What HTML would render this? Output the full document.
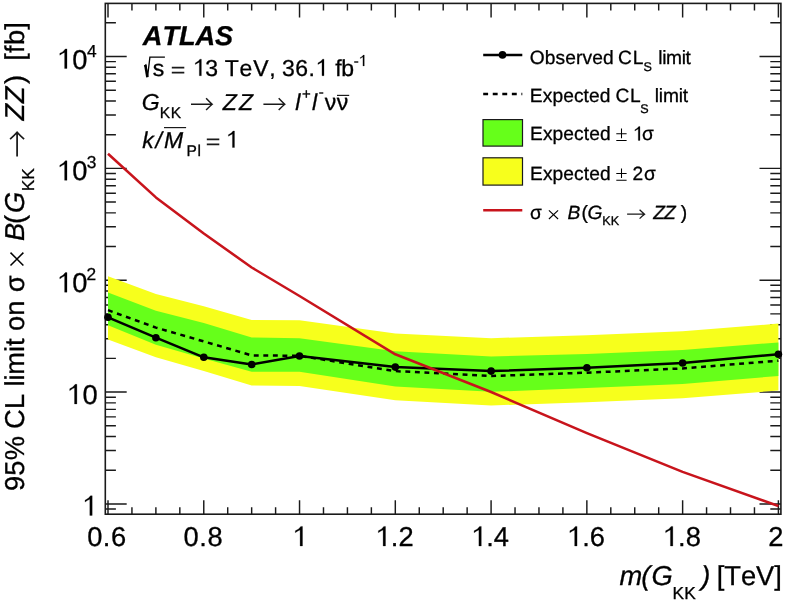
<!DOCTYPE html>
<html><head><meta charset="utf-8"><title>ATLAS limit plot</title>
<style>
html,body{margin:0;padding:0;background:#ffffff;}
svg{will-change:transform;}
svg text{stroke:#000;stroke-width:0.3px;fill:#000;}
body{width:786px;height:604px;position:relative;overflow:hidden;font-family:"Liberation Sans",sans-serif;}
</style></head><body>
<svg width="786" height="604" viewBox="0 0 786 604" style="position:absolute;left:0;top:0;font-kerning:none;text-rendering:geometricPrecision" font-family="Liberation Sans, sans-serif" fill="#1a1a1a">
<rect x="0" y="0" width="786" height="604" fill="#ffffff"/>
<path d="M108.00 514.2 v-14 M108.00 3.4 v14 M131.94 514.2 v-7 M131.94 3.4 v7 M155.89 514.2 v-7 M155.89 3.4 v7 M179.83 514.2 v-7 M179.83 3.4 v7 M203.77 514.2 v-14 M203.77 3.4 v14 M227.71 514.2 v-7 M227.71 3.4 v7 M251.66 514.2 v-7 M251.66 3.4 v7 M275.60 514.2 v-7 M275.60 3.4 v7 M299.54 514.2 v-14 M299.54 3.4 v14 M323.49 514.2 v-7 M323.49 3.4 v7 M347.43 514.2 v-7 M347.43 3.4 v7 M371.37 514.2 v-7 M371.37 3.4 v7 M395.31 514.2 v-14 M395.31 3.4 v14 M419.26 514.2 v-7 M419.26 3.4 v7 M443.20 514.2 v-7 M443.20 3.4 v7 M467.14 514.2 v-7 M467.14 3.4 v7 M491.09 514.2 v-14 M491.09 3.4 v14 M515.03 514.2 v-7 M515.03 3.4 v7 M538.97 514.2 v-7 M538.97 3.4 v7 M562.91 514.2 v-7 M562.91 3.4 v7 M586.86 514.2 v-14 M586.86 3.4 v14 M610.80 514.2 v-7 M610.80 3.4 v7 M634.74 514.2 v-7 M634.74 3.4 v7 M658.69 514.2 v-7 M658.69 3.4 v7 M682.63 514.2 v-14 M682.63 3.4 v14 M706.57 514.2 v-7 M706.57 3.4 v7 M730.51 514.2 v-7 M730.51 3.4 v7 M754.46 514.2 v-7 M754.46 3.4 v7 M778.40 514.2 v-14 M778.40 3.4 v14 M105.3 509.02 h10.6 M780.9 509.02 h-10.6 M105.3 503.90 h21.4 M780.9 503.90 h-21.4 M105.3 470.23 h10.6 M780.9 470.23 h-10.6 M105.3 450.53 h10.6 M780.9 450.53 h-10.6 M105.3 436.56 h10.6 M780.9 436.56 h-10.6 M105.3 425.72 h10.6 M780.9 425.72 h-10.6 M105.3 416.86 h10.6 M780.9 416.86 h-10.6 M105.3 409.38 h10.6 M780.9 409.38 h-10.6 M105.3 402.89 h10.6 M780.9 402.89 h-10.6 M105.3 397.17 h10.6 M780.9 397.17 h-10.6 M105.3 392.05 h21.4 M780.9 392.05 h-21.4 M105.3 358.38 h10.6 M780.9 358.38 h-10.6 M105.3 338.68 h10.6 M780.9 338.68 h-10.6 M105.3 324.71 h10.6 M780.9 324.71 h-10.6 M105.3 313.87 h10.6 M780.9 313.87 h-10.6 M105.3 305.01 h10.6 M780.9 305.01 h-10.6 M105.3 297.53 h10.6 M780.9 297.53 h-10.6 M105.3 291.04 h10.6 M780.9 291.04 h-10.6 M105.3 285.32 h10.6 M780.9 285.32 h-10.6 M105.3 280.20 h21.4 M780.9 280.20 h-21.4 M105.3 246.53 h10.6 M780.9 246.53 h-10.6 M105.3 226.83 h10.6 M780.9 226.83 h-10.6 M105.3 212.86 h10.6 M780.9 212.86 h-10.6 M105.3 202.02 h10.6 M780.9 202.02 h-10.6 M105.3 193.16 h10.6 M780.9 193.16 h-10.6 M105.3 185.68 h10.6 M780.9 185.68 h-10.6 M105.3 179.19 h10.6 M780.9 179.19 h-10.6 M105.3 173.47 h10.6 M780.9 173.47 h-10.6 M105.3 168.35 h21.4 M780.9 168.35 h-21.4 M105.3 134.68 h10.6 M780.9 134.68 h-10.6 M105.3 114.98 h10.6 M780.9 114.98 h-10.6 M105.3 101.01 h10.6 M780.9 101.01 h-10.6 M105.3 90.17 h10.6 M780.9 90.17 h-10.6 M105.3 81.31 h10.6 M780.9 81.31 h-10.6 M105.3 73.83 h10.6 M780.9 73.83 h-10.6 M105.3 67.34 h10.6 M780.9 67.34 h-10.6 M105.3 61.62 h10.6 M780.9 61.62 h-10.6 M105.3 56.50 h21.4 M780.9 56.50 h-21.4 M105.3 22.83 h10.6 M780.9 22.83 h-10.6" stroke="#1a1a1a" stroke-width="1.45" fill="none"/>
<polygon points="108.0,276.3 155.9,294.0 203.8,306.3 251.7,320.0 299.5,320.2 395.3,333.4 491.1,338.2 586.9,335.2 682.6,331.2 778.4,323.6 778.4,390.5 682.6,398.2 586.9,402.2 491.1,405.5 395.3,400.2 299.5,386.1 251.7,385.4 203.8,370.9 155.9,357.3 108.0,339.5" fill="#f7ff1c"/>
<polygon points="108.0,292.5 155.9,310.8 203.8,323.1 251.7,337.4 299.5,338.2 395.3,351.3 491.1,356.6 586.9,353.9 682.6,350.0 778.4,342.4 778.4,376.0 682.6,384.0 586.9,388.0 491.1,391.8 395.3,386.4 299.5,371.8 251.7,371.8 203.8,358.6 155.9,344.8 108.0,325.3" fill="#66ff1a"/>
<rect x="105.3" y="3.4" width="675.6" height="510.8" fill="none" stroke="#1a1a1a" stroke-width="1.6"/>
<polyline points="108.0,310.2 155.9,327.6 203.8,341.4 251.7,355.4 299.5,355.8 395.3,371.1 491.1,376.0 586.9,372.7 682.6,368.4 778.4,360.7" fill="none" stroke="#000" stroke-width="2.5" stroke-dasharray="4.9 4.65"/>
<polyline points="108.0,317.3 155.9,337.7 203.8,357.3 251.7,364.5 299.5,356.0 395.3,367.1 491.1,371.1 586.9,367.7 682.6,363.0 778.4,354.2" fill="none" stroke="#000" stroke-width="2.5" stroke-linejoin="round"/>
<circle cx="108.0" cy="317.3" r="3.8" fill="#000"/>
<circle cx="155.9" cy="337.7" r="3.8" fill="#000"/>
<circle cx="203.8" cy="357.3" r="3.8" fill="#000"/>
<circle cx="251.7" cy="364.5" r="3.8" fill="#000"/>
<circle cx="299.5" cy="356.0" r="3.8" fill="#000"/>
<circle cx="395.3" cy="367.1" r="3.8" fill="#000"/>
<circle cx="491.1" cy="371.1" r="3.8" fill="#000"/>
<circle cx="586.9" cy="367.7" r="3.8" fill="#000"/>
<circle cx="682.6" cy="363.0" r="3.8" fill="#000"/>
<circle cx="778.4" cy="354.2" r="3.8" fill="#000"/>
<polyline points="108.0,153.8 155.9,197.4 203.8,233.5 251.7,267.5 299.5,296.0 395.3,354.3 491.1,392.0 586.9,433.2 682.6,471.9 778.4,506.0" fill="none" stroke="#c8141c" stroke-width="2.55" stroke-linejoin="round"/>
<text x="87.13" y="546.00" font-size="27.3" letter-spacing="0.558">0.6</text>
<text x="183.53" y="546.00" font-size="27.3" letter-spacing="0.551">0.8</text>
<path d="M302.50 546.00 L300.10 546.00 L300.10 529.89 Q298.20 530.71 295.30 532.68 L295.30 530.82 Q299.02 529.35 300.79 526.38 L302.50 526.38 Z" fill="#000" stroke="#000" stroke-width="0.25"/>
<path d="M385.51 546.00 L383.11 546.00 L383.11 529.89 Q381.21 530.71 378.32 532.68 L378.32 530.82 Q382.03 529.35 383.80 526.38 L385.51 526.38 Z" fill="#000" stroke="#000" stroke-width="0.25"/>
<text x="390.72" y="546.00" font-size="27.3" letter-spacing="0.197">.2</text>
<path d="M481.29 546.00 L478.89 546.00 L478.89 529.89 Q476.98 530.71 474.09 532.68 L474.09 530.82 Q477.80 529.35 479.58 526.38 L481.29 526.38 Z" fill="#000" stroke="#000" stroke-width="0.25"/>
<text x="486.21" y="546.00" font-size="27.3" letter-spacing="-0.089">.4</text>
<path d="M577.06 546.00 L574.66 546.00 L574.66 529.89 Q572.75 530.71 569.86 532.68 L569.86 530.82 Q573.57 529.35 575.35 526.38 L577.06 526.38 Z" fill="#000" stroke="#000" stroke-width="0.25"/>
<text x="582.18" y="546.00" font-size="27.3" letter-spacing="0.111">.6</text>
<path d="M672.83 546.00 L670.43 546.00 L670.43 529.89 Q668.53 530.71 665.63 532.68 L665.63 530.82 Q669.34 529.35 671.12 526.38 L672.83 526.38 Z" fill="#000" stroke="#000" stroke-width="0.25"/>
<text x="677.94" y="546.00" font-size="27.3" letter-spacing="0.104">.8</text>
<text x="768.23" y="546.00" font-size="27.3">2</text>
<path d="M92.20 515.40 L89.80 515.40 L89.80 499.29 Q87.90 500.11 85.00 502.08 L85.00 500.22 Q88.72 498.75 90.49 495.78 L92.20 495.78 Z" fill="#000" stroke="#000" stroke-width="0.25"/>
<path d="M76.90 403.95 L74.50 403.95 L74.50 387.84 Q72.60 388.66 69.70 390.63 L69.70 388.77 Q73.42 387.30 75.19 384.33 L76.90 384.33 Z" fill="#000" stroke="#000" stroke-width="0.25"/>
<text x="82.58" y="403.95" font-size="27.3" letter-spacing="0.673">0</text>
<path d="M67.00 292.20 L64.60 292.20 L64.60 276.09 Q62.70 276.91 59.80 278.88 L59.80 277.02 Q63.52 275.55 65.29 272.58 L67.00 272.58 Z" fill="#000" stroke="#000" stroke-width="0.25"/>
<text x="72.28" y="292.20" font-size="27.3" letter-spacing="0.273">0</text>
<text x="86.43" y="280.20" font-size="17.3">2</text>
<path d="M67.00 180.35 L64.60 180.35 L64.60 164.24 Q62.70 165.06 59.80 167.03 L59.80 165.17 Q63.52 163.70 65.29 160.73 L67.00 160.73 Z" fill="#000" stroke="#000" stroke-width="0.25"/>
<text x="72.28" y="180.35" font-size="27.3" letter-spacing="0.273">0</text>
<text x="86.64" y="168.35" font-size="17.3">3</text>
<path d="M67.00 68.50 L64.60 68.50 L64.60 52.39 Q62.70 53.21 59.80 55.18 L59.80 53.32 Q63.52 51.85 65.29 48.88 L67.00 48.88 Z" fill="#000" stroke="#000" stroke-width="0.25"/>
<text x="72.28" y="68.50" font-size="27.3" letter-spacing="0.273">0</text>
<text x="86.90" y="56.50" font-size="17.3">4</text>
<text x="142.86" y="45.20" font-size="27.15" font-weight="bold" font-style="italic" letter-spacing="-0.067">ATLAS</text>
<path d="M144.2 66.2 L145.8 65.0 L147.6 76.6 L149.9 57.1 L164.9 57.1" fill="none" stroke="#000" stroke-width="1.3" stroke-linejoin="miter"/>
<path d="M145.3 65.0 L147.4 77.2" fill="none" stroke="#000" stroke-width="2.5"/>
<text x="152.76" y="75.70" font-size="23">s</text>
<path d="M171.8 67.6 H184.3 M171.8 72.7 H184.3" fill="none" stroke="#1a1a1a" stroke-width="1.8"/>
<path d="M201.37 75.70 L199.34 75.70 L199.34 62.13 Q197.74 62.82 195.30 64.48 L195.30 62.91 Q198.43 61.67 199.93 59.17 L201.37 59.17 Z" fill="#000" stroke="#000" stroke-width="0.25"/>
<text x="205.32" y="75.70" font-size="23" letter-spacing="-0.268">3</text>
<text x="224.68" y="75.70" font-size="23" letter-spacing="0.837">TeV,</text>
<text x="281.92" y="75.70" font-size="23" letter-spacing="0.511">36.</text>
<path d="M324.00 75.70 L321.98 75.70 L321.98 62.13 Q320.38 62.82 317.94 64.48 L317.94 62.91 Q321.07 61.67 322.56 59.17 L324.00 59.17 Z" fill="#000" stroke="#000" stroke-width="0.25"/>
<text x="335.17" y="75.70" font-size="23" letter-spacing="-0.290">fb</text>
<text x="353.73" y="65.90" font-size="15">-</text>
<path d="M364.26 65.90 L362.94 65.90 L362.94 57.05 Q361.89 57.50 360.30 58.58 L360.30 57.56 Q362.34 56.75 363.32 55.12 L364.26 55.12 Z" fill="#000" stroke="#000" stroke-width="0.25"/>
<text x="141.77" y="109.80" font-size="23" font-style="italic">G</text>
<text x="159.83" y="117.60" font-size="15.5" letter-spacing="0.669">KK</text>
<path d="M191.0 104.2 H211.6 M206.1 98.3 Q209.8 102.3 212.2 104.2 Q209.8 106.1 206.1 110.1" fill="none" stroke="#1a1a1a" stroke-width="1.45" stroke-linecap="butt" stroke-linejoin="miter"/>
<text x="222.75" y="109.80" font-size="23" font-style="italic" letter-spacing="2.312">ZZ</text>
<path d="M263.4 104.2 H284.2 M278.7 98.3 Q282.4 102.3 284.8 104.2 Q282.4 106.1 278.7 110.1" fill="none" stroke="#1a1a1a" stroke-width="1.45" stroke-linecap="butt" stroke-linejoin="miter"/>
<text x="295.13" y="109.80" font-size="23" font-style="italic">l</text>
<text x="301.97" y="98.60" font-size="15">+</text>
<text x="311.93" y="109.80" font-size="23" font-style="italic">l</text>
<text x="318.83" y="96.50" font-size="15">-</text>
<text x="324.80" y="109.80" font-size="23">ν</text>
<text x="336.70" y="109.80" font-size="23">ν</text>
<path d="M337.0 95.4 H349.2" stroke="#1a1a1a" stroke-width="1.2" fill="none"/>
<text x="142.22" y="147.50" font-size="23" font-style="italic">k</text>
<text x="155.40" y="147.50" font-size="23" font-style="italic">/</text>
<text x="164.09" y="147.50" font-size="23" font-style="italic">M</text>
<path d="M164.0 127.6 H186.1" stroke="#1a1a1a" stroke-width="1.2" fill="none"/>
<text x="186.43" y="156.30" font-size="15.5" letter-spacing="0.726">Pl</text>
<path d="M206.8 139.3 H219.3 M206.8 144.4 H219.3" fill="none" stroke="#1a1a1a" stroke-width="1.7"/>
<path d="M234.47 147.50 L232.44 147.50 L232.44 133.93 Q230.84 134.62 228.40 136.28 L228.40 134.71 Q231.53 133.47 233.03 130.97 L234.47 130.97 Z" fill="#000" stroke="#000" stroke-width="0.25"/>
<path d="M483.2 54.9 H522.3" stroke="#000" stroke-width="2.5"/>
<circle cx="502.5" cy="54.9" r="3.8" fill="#000"/>
<text x="529.79" y="64.30" font-size="19.2" letter-spacing="0.101">Observed</text>
<text x="617.92" y="64.30" font-size="19.2" letter-spacing="1.069">CL</text>
<text x="643.43" y="70.50" font-size="12.6">S</text>
<text x="658.31" y="64.30" font-size="19.2" letter-spacing="-0.373">limit</text>
<path d="M483.2 93.9 H522.3" stroke="#000" stroke-width="2.5" stroke-dasharray="4.9 4.65"/>
<text x="529.82" y="102.00" font-size="19.2" letter-spacing="0.094">Expected</text>
<text x="615.62" y="102.00" font-size="19.2" letter-spacing="0.469">CL</text>
<text x="640.23" y="112.80" font-size="12.6">S</text>
<text x="654.71" y="102.00" font-size="19.2" letter-spacing="-0.173">limit</text>
<rect x="483.0" y="119.6" width="39.5" height="26.5" fill="#66ff1a" stroke="#1a1a1a" stroke-width="1.2"/>
<text x="530.02" y="140.20" font-size="19.2" letter-spacing="0.080">Expected</text>
<path d="M616.3 133.7 H626.6 M621.5 128.6 V138.2 M616.3 140.4 H626.6" fill="none" stroke="#000" stroke-width="1.05"/>
<path d="M639.96 140.40 L638.28 140.40 L638.28 129.07 Q636.94 129.65 634.90 131.03 L634.90 129.72 Q637.51 128.69 638.76 126.60 L639.96 126.60 Z" fill="#000" stroke="#000" stroke-width="0.25"/>
<text x="641.99" y="140.40" font-size="19.2">σ</text>
<rect x="483.0" y="157.8" width="39.5" height="27.3" fill="#f7ff1c" stroke="#1a1a1a" stroke-width="1.2"/>
<text x="530.02" y="180.00" font-size="19.2" letter-spacing="0.080">Expected</text>
<path d="M616.3 173.5 H626.6 M621.5 168.4 V178.0 M616.3 180.2 H626.6" fill="none" stroke="#000" stroke-width="1.05"/>
<text x="632.53" y="180.00" font-size="19.2">2</text>
<text x="643.89" y="180.00" font-size="19.2">σ</text>
<path d="M483.2 210.2 H522.3" stroke="#c8141c" stroke-width="2.5"/>
<text x="529.99" y="219.00" font-size="19.2">σ</text>
<path d="M548.9 210.4 L558.1 219.0 M548.9 219.0 L558.1 210.4" fill="none" stroke="#000" stroke-width="1.1"/>
<text x="567.61" y="219.00" font-size="19.2" font-style="italic">B</text>
<text x="581.41" y="219.00" font-size="19.2">(</text>
<text x="587.45" y="219.00" font-size="19.2" font-style="italic">G</text>
<text x="602.37" y="225.00" font-size="12.6" letter-spacing="-0.033">KK</text>
<path d="M627.1 214.2 H644.0 M639.6 209.8 Q642.6 212.7 644.6 214.2 Q642.6 215.7 639.6 218.6" fill="none" stroke="#1a1a1a" stroke-width="1.25" stroke-linecap="butt" stroke-linejoin="miter"/>
<text x="653.17" y="219.00" font-size="19.2" font-style="italic" letter-spacing="-0.966">ZZ</text>
<text x="680.79" y="219.00" font-size="19.2">)</text>
<text x="619.45" y="584.90" font-size="27.3" font-style="italic">m</text>
<text x="641.22" y="584.90" font-size="27.3" font-style="italic">(</text>
<text x="651.45" y="584.90" font-size="27.3" font-style="italic">G</text>
<text x="672.38" y="599.30" font-size="17.3" letter-spacing="0.235">KK</text>
<text x="701.15" y="584.90" font-size="27.3" font-style="italic">)</text>
<text x="716.75" y="584.90" font-size="27.3" letter-spacing="-0.061">[TeV]</text>
<g transform="translate(24.3,489.8) rotate(-90)">
<text x="-1.28" y="0.00" font-size="27.3" letter-spacing="0.206">95%</text>
<text x="60.81" y="0.00" font-size="27.3" letter-spacing="0.295">CL</text>
<text x="103.26" y="0.00" font-size="27.3" letter-spacing="-0.120">limit</text>
<text x="158.75" y="0.00" font-size="27.3" letter-spacing="0.053">on</text>
<text x="197.45" y="0.00" font-size="27.3">σ</text>
<path d="M224.3 -13.8 L237.2 -0.9 M224.3 -0.9 L237.2 -13.8" fill="none" stroke="#000" stroke-width="1.5"/>
<text x="248.86" y="0.00" font-size="27.3" font-style="italic">B</text>
<text x="265.91" y="0.00" font-size="27.3">(</text>
<text x="276.85" y="0.00" font-size="27.3" font-style="italic">G</text>
<text x="298.53" y="10.00" font-size="17.3" letter-spacing="0.085">KK</text>
<path d="M333.4 -7.2 H356.9 M350.7 -14.2 Q354.8 -9.5 357.5 -7.2 Q354.8 -4.9 350.7 -0.2" fill="none" stroke="#1a1a1a" stroke-width="1.75" stroke-linecap="butt" stroke-linejoin="miter"/>
<text x="369.43" y="0.00" font-size="27.3" font-style="italic" letter-spacing="0.455">ZZ</text>
<text x="405.84" y="0.00" font-size="27.3">)</text>
<text x="429.15" y="0.00" font-size="27.3" letter-spacing="0.185">[fb]</text>
</g>
</svg>
</body></html>
